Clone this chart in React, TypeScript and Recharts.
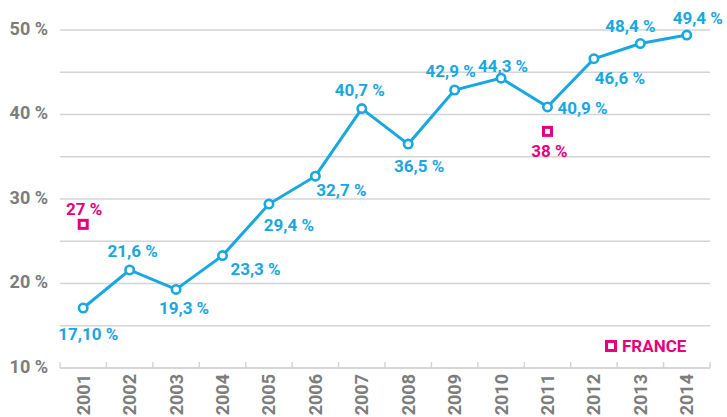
import React from 'react';
import { LineChart, Line, XAxis, YAxis, CartesianGrid, LabelList } from 'recharts';

const years = [2001, 2002, 2003, 2004, 2005, 2006, 2007, 2008, 2009, 2010, 2011, 2012, 2013, 2014];
const seriesValues = [17.1, 21.6, 19.3, 23.3, 29.4, 32.7, 40.7, 36.5, 42.9, 44.3, 40.9, 46.6, 48.4, 49.4];
const seriesLabels = ['17,10 %', '21,6 %', '19,3 %', '23,3 %', '29,4 %', '32,7 %', '40,7 %', '36,5 %', '42,9 %', '44,3 %', '40,9 %', '46,6 %', '48,4 %', '49,4 %'];
const franceValues: (number | null)[] = [27, null, null, null, null, null, null, null, null, null, 38, null, null, null];
const franceLabels = ['27 %', '', '', '', '', '', '', '', '', '', '38 %', '', '', ''];
const yTicks = [10, 15, 20, 25, 30, 35, 40, 45, 50];
const yTickLabels: Record<number, string> = { 10: '10 %', 20: '20 %', 30: '30 %', 40: '40 %', 50: '50 %' };
const legendLabel = 'FRANCE';

// styling
const CYAN = '#19a7e0';
const PINK = '#e6007e';
const GREY = '#7d7d7d';
const GRID = '#d4d4d4';
const FONT = 'Roboto, "Noto Sans", sans-serif';
const seriesLabelOffsets: [number, number][] = [
  [5, 26], [3, -19], [8, 19], [33, 13], [20, 21], [26, 14], [-2, -19],
  [11, 22], [-4, -19], [2, -12], [35, 1], [26, 19], [-10, -18], [11, -17],
];
const franceLabelOffsets: [number, number][] = [
  [1, -15], [0, 0], [0, 0], [0, 0], [0, 0], [0, 0], [0, 0], [0, 0], [0, 0], [0, 0], [2, 20], [0, 0], [0, 0], [0, 0],
];

const data = years.map((year, i) => ({
  year,
  value: seriesValues[i],
  france: franceValues[i],
}));

const xTickPositions = [...years.map((y) => y - 0.5), years[years.length - 1] + 0.5, ...years].sort((a, b) => a - b);

const XTick = (props: any) => {
  const { x, y, payload } = props;
  const v = payload.value as number;
  if (v % 1 !== 0) {
    return <line x1={x} x2={x} y1={y} y2={y - 6} stroke={GRID} strokeWidth={1.5} />;
  }
  return (
    <text
      x={x}
      y={y + 6}
      transform={`rotate(-90, ${x}, ${y + 6})`}
      textAnchor="end"
      dominantBaseline="central"
      fill={GREY}
      fontFamily={FONT}
      fontWeight={700}
      fontSize={18}
    >
      {String(v)}
    </text>
  );
};

const YTick = (props: any) => {
  const { x, y, payload } = props;
  const label = yTickLabels[payload.value];
  if (!label) return null;
  return (
    <text x={x - 12} y={y - 2} textAnchor="end" dominantBaseline="central" fill={GREY} fontFamily={FONT} fontWeight={700} fontSize={18}>
      {label}
    </text>
  );
};

const CircleDot = (props: any) => {
  const { cx, cy, index } = props;
  if (cx == null || cy == null) return <g key={index} />;
  return <circle key={index} cx={cx} cy={cy} r={4.2} fill="#fff" stroke={CYAN} strokeWidth={2.6} />;
};

const SquareDot = (props: any) => {
  const { cx, cy, index, value } = props;
  if (cx == null || cy == null || value == null) return <g key={index} />;
  return <rect key={index} x={cx - 4} y={cy - 4} width={8} height={8} fill="#fff" stroke={PINK} strokeWidth={3} />;
};

const makeLabel = (labels: string[], offsets: [number, number][], color: string) => (props: any) => {
  const { x, y, index } = props;
  const text = labels[index];
  if (!text || x == null || y == null) return null;
  const [dx, dy] = offsets[index];
  return (
    <text x={x + dx} y={y + dy} textAnchor="middle" dominantBaseline="central" fill={color} fontFamily={FONT} fontWeight={700} fontSize={17}>
      {text}
    </text>
  );
};

export default function App() {
  return (
    <div style={{ position: 'absolute', left: 0, top: 0, width: 727, height: 417, background: '#fff' }}>
      <LineChart width={727} height={417} data={data} margin={{ top: 30, right: 17, bottom: 0, left: 0 }}>
        <CartesianGrid vertical={false} stroke={GRID} strokeWidth={1.5} />
        <XAxis
          dataKey="year"
          type="number"
          domain={[2000.5, 2014.5]}
          ticks={xTickPositions}
          interval={0}
          tickLine={false}
          tickSize={0}
          tickMargin={0}
          axisLine={{ stroke: GRID, strokeWidth: 1.5 }}
          tick={<XTick />}
          height={49}
        />
        <YAxis
          type="number"
          domain={[10, 50]}
          ticks={yTicks}
          interval={0}
          axisLine={false}
          tickLine={false}
          tickSize={0}
          tickMargin={0}
          tick={<YTick />}
          width={60}
        />
        <Line
          dataKey="value"
          stroke={CYAN}
          strokeWidth={3}
          dot={<CircleDot />}
          activeDot={false}
          isAnimationActive={false}
        >
          <LabelList dataKey="value" content={makeLabel(seriesLabels, seriesLabelOffsets, CYAN)} />
        </Line>
        <Line
          dataKey="france"
          stroke="none"
          dot={<SquareDot />}
          activeDot={false}
          connectNulls={false}
          isAnimationActive={false}
        >
          <LabelList dataKey="france" content={makeLabel(franceLabels, franceLabelOffsets, PINK)} />
        </Line>
      </LineChart>
      <div
        style={{
          position: 'absolute',
          left: 605,
          top: 337,
          display: 'flex',
          alignItems: 'center',
          fontFamily: FONT,
          fontWeight: 700,
          fontSize: 17,
          color: PINK,
          lineHeight: '18px',
        }}
      >
        <span style={{ display: 'inline-block', width: 6, height: 6, border: `3px solid ${PINK}`, background: '#fff', marginRight: 5 }} />
        <span>{legendLabel}</span>
      </div>
    </div>
  );
}
